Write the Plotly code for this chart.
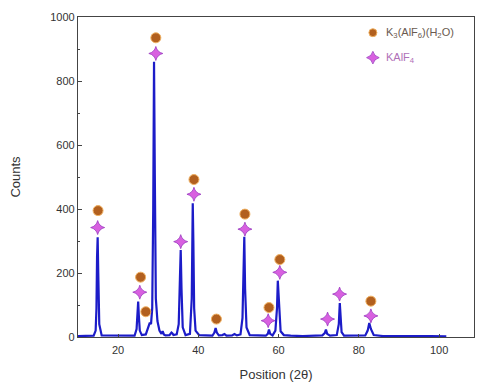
import plotly.graph_objects as go

# Measured diffraction trace: 2-theta positions and counts
two_theta = [10.0, 13.9, 14.4, 14.6, 14.75, 14.9, 15.05, 15.3, 15.9,
             24.1, 24.6, 24.85, 25.0, 25.15, 25.4, 25.9,
             26.9, 27.5, 27.9, 28.2, 28.5, 28.75, 28.95, 29.15, 29.4, 29.8, 30.3,
             30.8, 31.1, 31.4, 31.8, 32.8, 33.3, 33.5, 33.8, 34.6,
             35.1, 35.4, 35.6, 35.8, 36.1, 36.8,
             37.9, 38.35, 38.6, 38.75, 38.95, 39.3, 40.2,
             43.5, 44.0, 44.3, 44.6, 45.1, 46.0, 46.5, 47.0, 48.4, 49.0, 49.6,
             50.5, 51.0, 51.25, 51.45, 51.65, 52.0, 52.8,
             56.8, 57.3, 57.6, 57.9, 58.5, 59.2, 59.6, 59.8, 59.95, 60.15, 60.5, 61.3,
             63.0, 66.0, 70.9, 71.5, 71.8, 72.1, 72.8,
             74.5, 75.0, 75.25, 75.45, 75.7, 76.3,
             81.6, 82.2, 82.6, 83.0, 83.7, 86.0,
             95.6, 96.8, 98.0, 101.8]
counts = [3, 4, 20, 90, 250, 312, 200, 40, 5,
          4, 25, 90, 111, 70, 20, 6,
          8, 30, 45, 40, 90, 400, 860, 500, 120, 50, 20,
          10, 18, 8, 5, 6, 14, 12, 6, 8,
          40, 180, 272, 150, 30, 6,
          10, 120, 418, 300, 90, 20, 6,
          4, 14, 28, 14, 5, 6, 9, 4, 5, 9, 5,
          8, 60, 230, 313, 150, 30, 6,
          4, 10, 23, 10, 5, 20, 90, 176, 140, 60, 18, 6,
          4, 3, 5, 12, 23, 10, 4,
          6, 40, 106, 60, 15, 4,
          5, 20, 44, 25, 6, 3,
          3, 5, 3, 2]

# Reflection markers for K3(AlF6)(H2O)
k3_pos = [15.0, 25.6, 26.9, 29.4, 38.9, 44.5, 51.6, 57.6, 60.3, 83.0]
k3_lvl = [395, 187, 79, 935, 492, 56, 384, 92, 242, 112]

# Reflection markers for KAlF4
kalf4_pos = [14.9, 25.4, 29.4, 35.6, 38.9, 51.6, 57.4, 60.3, 72.2, 75.2, 83.0]
kalf4_lvl = [342, 140, 886, 298, 446, 337, 51, 202, 56, 134, 66]

circle_marker = dict(symbol="circle", size=10, color="#b2601f",
                     line=dict(color="#f0b060", width=1))
star_marker = dict(symbol="star-diamond", size=10, color="#d860e0",
                   line=dict(color="#9a3cc0", width=0.8))

fig = go.Figure()

fig.add_trace(go.Scatter(
    x=two_theta, y=counts, mode="lines",
    line=dict(color="#1c1cc8", width=2.2),
    showlegend=False, hoverinfo="skip",
))

fig.add_trace(go.Scatter(x=k3_pos, y=k3_lvl, mode="markers",
                         marker=circle_marker, showlegend=False))
fig.add_trace(go.Scatter(x=kalf4_pos, y=kalf4_lvl, mode="markers",
                         marker=star_marker, showlegend=False))

# Legend drawn in the upper right corner
fig.add_trace(go.Scatter(
    x=[83.5], y=[951], mode="markers", cliponaxis=False,
    marker={**circle_marker, "size": 8},
    showlegend=False, hoverinfo="skip",
))
fig.add_trace(go.Scatter(
    x=[83.5], y=[873], mode="markers", cliponaxis=False,
    marker={**star_marker, "size": 9},
    showlegend=False, hoverinfo="skip",
))
fig.add_annotation(x=86.3, y=951, xanchor="left", yanchor="middle", showarrow=False,
                   text="K<sub>3</sub>(AlF<sub>6</sub>)(H<sub>2</sub>O)",
                   font=dict(family="Liberation Sans, Arial", size=11, color="#6a5a50"))
fig.add_annotation(x=86.3, y=873, xanchor="left", yanchor="middle", showarrow=False,
                   text="KAlF<sub>4</sub>",
                   font=dict(family="Liberation Sans, Arial", size=11, color="#b070b8"))

fig.update_layout(
    width=478, height=385,
    margin=dict(l=78, r=4, t=17, b=48),
    paper_bgcolor="white", plot_bgcolor="white",
    font=dict(family="Liberation Sans, Arial", size=11, color="#333333"),
    xaxis=dict(
        range=[10, 108.7], tickvals=[20, 40, 60, 80, 100],
        showgrid=False, zeroline=False,
        showline=True, linecolor="#444444", linewidth=1.2, mirror=True,
        ticks="inside", ticklen=3, tickcolor="#444444",
        ticklabelstandoff=3,
        title=dict(text="Position (2θ)", font=dict(size=13, color="#333333"), standoff=14),
    ),
    yaxis=dict(
        range=[0, 1000], tickvals=[0, 200, 400, 600, 800, 1000],
        showgrid=False, zeroline=False,
        showline=True, linecolor="#444444", linewidth=1.2, mirror=True,
        ticks="inside", ticklen=4, tickcolor="#444444",
        minor=dict(dtick=100, ticks="inside", ticklen=2, tickcolor="#444444"),
        title=dict(text="Counts", font=dict(size=13, color="#333333"), standoff=26),
    ),
)

fig.write_html("out.html")
